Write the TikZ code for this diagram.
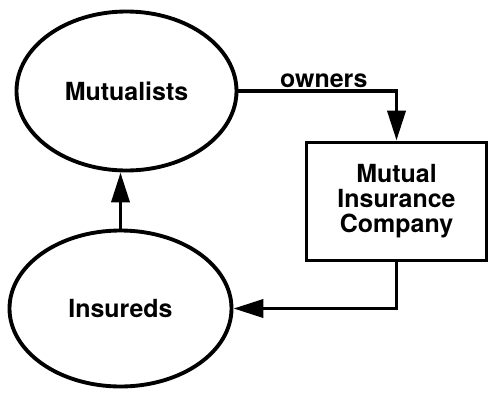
\documentclass[tikz,border=0pt]{standalone}
\usepackage{fontspec}
\setmainfont{TeX Gyre Heros}
\usetikzlibrary{arrows.meta}
\usetikzlibrary{shapes.geometric}
\usetikzlibrary{positioning}
\tikzset{party/.style = {draw, ellipse, line width = 2.2pt, inner sep = 0,
                         font = \bfseries\fontsize{14.2}{14.2}\selectfont}}
\tikzset{firm/.style = {draw, rectangle, line width = 2.2pt, align = center, inner sep = 0,
                        font = \bfseries\fontsize{14.2}{14.2}\selectfont}}
\tikzset{flow/.style = {line width = 2.2pt, -{Triangle[length = 0.6cm, width = 0.36cm]}}}

\begin{document}
\begin{tikzpicture}
      \useasboundingbox (0, 0) rectangle (9.84, 7.84);
      \node [party, minimum width = 4.40cm, minimum height = 3.18cm] (mut) at (2.53, 6.02) {Mutualists};
      \node [party, minimum width = 4.44cm, minimum height = 3.12cm] (ins) at (2.41, 1.67) {Insureds};
      \node [firm, minimum width = 3.60cm, minimum height = 2.36cm] (comp) at (7.93, 3.81)
            {Mutual\\Insurance\\Company};
      \draw [flow] (mut.east) -| node [pos = 0.27, above, inner sep = 1pt,
            font = \bfseries\fontsize{14.2}{14.2}\selectfont] (own) {owners} (comp);
      \draw [flow] (comp) |- (ins);
      \draw [flow] (ins) -- (ins.north |- mut.south);
    \end{tikzpicture}
\end{document}
